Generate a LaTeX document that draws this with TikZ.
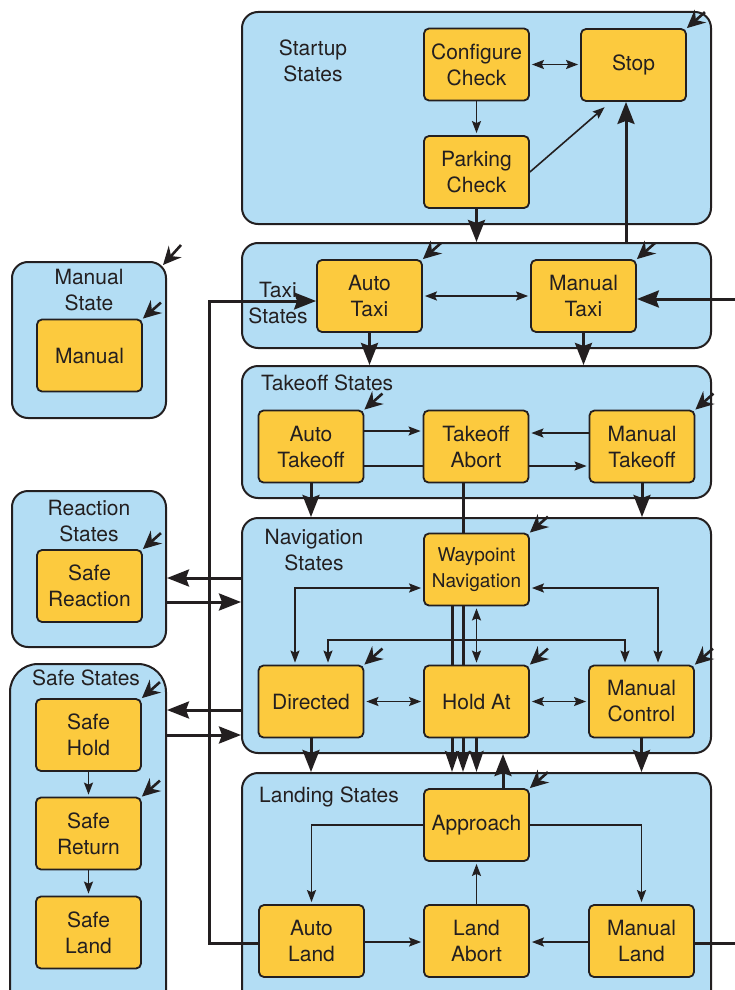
\documentclass[tikz,border=0pt]{standalone}
\usepackage{fontspec}
\setmainfont{TeX Gyre Heros}
\usetikzlibrary{arrows.meta,calc}
\definecolor{contfill}{HTML}{B3DDF4}
\definecolor{statefill}{HTML}{FCCA3E}
\definecolor{ink}{HTML}{231F20}
\pgfdeclarelayer{back}
\pgfdeclarelayer{mid}
\pgfsetlayers{back,mid,main}
\begin{document}
\begin{tikzpicture}[x=1pt,y=-1pt,
  font=\fontsize{21}{26}\selectfont, text=ink,
  cont/.style={draw=ink, line width=2pt, fill=contfill, rounded corners=16pt, inner sep=0pt},
  st/.style={draw=ink, line width=1.8pt, fill=statefill, rounded corners=5pt, minimum width=105pt, minimum height=72pt, align=center, inner sep=2pt},
  lbl/.style={inner sep=0pt, align=center},
  tline/.style={draw=ink, line width=1.6pt},
  tarr/.style={tline, -{Stealth[length=12pt,width=9pt,inset=2pt]}, shorten >=2pt},
  tbi/.style={tline, {Stealth[length=12pt,width=9pt,inset=2pt]}-{Stealth[length=12pt,width=9pt,inset=2pt]}, shorten >=2pt, shorten <=2pt},
  kline/.style={draw=ink, line width=3pt},
  karr/.style={kline, -{Stealth[length=22pt,width=17pt,inset=3pt]}},
  karrs/.style={kline, -{Stealth[length=21pt,width=14pt,inset=3pt]}},
  iarr/.style={draw=ink, line width=2.6pt, -{Stealth[length=18pt,width=17pt,inset=6pt]}}
]
\useasboundingbox (0,0) rectangle (735,990);

% state nodes
\node[st] (cfg) at (476.5,64.5) {Configure\\Check};
\node[st] (stop) at (633.5,65) {Stop};
\node[st] (park) at (476.5,172) {Parking\\Check};
\node[st] (ataxi) at (369.5,296) {Auto\\Taxi};
\node[st] (mtaxi) at (583.5,296) {Manual\\Taxi};
\node[st] (atko) at (311,446.5) {Auto\\Takeoff};
\node[st] (tkab) at (476,446.5) {Takeoff\\Abort};
\node[st] (mtko) at (642,446.5) {Manual\\Takeoff};
\node[st, font=\fontsize{19}{26}\selectfont] (wp) at (476.5,569.5) {Waypoint\\Navigation};
\node[st] (dir) at (311,701.5) {Directed};
\node[st] (hold) at (476.5,701.5) {Hold At};
\node[st] (mctl) at (641.5,701.5) {Manual\\Control};
\node[st] (appr) at (476.5,825) {Approach};
\node[st] (aland) at (311.5,941) {Auto\\Land};
\node[st] (labort) at (476.5,941) {Land\\Abort};
\node[st] (mland) at (641.5,941) {Manual\\Land};
\node[st] (man) at (89.5,355.5) {Manual};
\node[st] (srea) at (89.5,586) {Safe\\Reaction};
\node[st] (shold) at (88.5,735) {Safe\\Hold};
\node[st] (sret) at (88.5,833.5) {Safe\\Return};
\node[st] (sland) at (88.5,932.5) {Safe\\Land};

% container labels
\node[lbl] (lstartup) at (313,61) {Startup\\States};
\node[lbl] (ltaxi) at (278,303) {Taxi\\States};
\node[lbl, anchor=west] (ltko) at (261,383) {Takeoff States};
\node[lbl] (lnav) at (314,550) {Navigation\\States};
\node[lbl, anchor=west] (lland) at (259,797) {Landing States};
\node[lbl] (lman) at (89,290) {Manual\\State};
\node[lbl] (lrea) at (89,521) {Reaction\\States};
\node[lbl] (lsafe) at (86,678) {Safe States};

% containers
\begin{pgfonlayer}{back}
\node[cont, minimum width=469pt, minimum height=212pt] (startup) at (476.5,118) {};
\node[cont, minimum width=469pt, minimum height=105pt] (taxi) at (476.5,295.5) {};
\node[cont, minimum width=469pt, minimum height=132pt] (takeoff) at (476.5,432) {};
\node[cont, minimum width=469pt, minimum height=235pt] (nav) at (476.5,635.5) {};
\node[cont, minimum width=469pt, minimum height=237pt] (landing) at (476.5,891.5) {};
\node[cont, minimum width=154pt, minimum height=156pt] (manst) at (89,340) {};
\node[cont, minimum width=154pt, minimum height=156pt] (react) at (89,569) {};
\node[cont, rounded corners=28pt, minimum width=156pt, minimum height=356pt] (safe) at (88,842) {};
\end{pgfonlayer}

% helper coordinates
\coordinate (stopin) at ($(stop.south)+(-7.5,0)$);
\coordinate (xL) at (209,0);
\coordinate (xR) at (760,0);
\coordinate (yAT) at (0,301);
\coordinate (yMT) at (0,299);
\coordinate (yAL) at (0,943);
\coordinate (yT1) at (0,431);
\coordinate (yT2) at (0,433);
\coordinate (yT3) at (0,466);
\coordinate (yW) at (0,588);
\coordinate (xD1) at (295,0);
\coordinate (xD2) at (328,0);
\coordinate (xM1) at (625,0);
\coordinate (xM2) at (658,0);
\coordinate (yDM) at (0,640);
\coordinate (xUp) at (503,0);
\coordinate (xTA) at (463,0);
\coordinate (xWP) at (452,0);
\coordinate (yR1) at (0,578);
\coordinate (yR2) at (0,602);
\coordinate (yS1) at (0,710);
\coordinate (yS2) at (0,735);
\coordinate (yL) at (0,942);

% lines passing behind states
\begin{pgfonlayer}{mid}
\draw[karrs] (xTA |- tkab.south) -- (xTA |- landing.north);
\draw[karrs] (xWP |- wp.south) -- (xWP |- landing.north);
\end{pgfonlayer}

% startup
\draw[tbi] (cfg.east) -- (cfg.east -| stop.west);
\draw[tarr] (cfg) -- (park);
\draw[tarr] (park.east) -- ($(stop.south west)+(26,4)$);
\draw[karr] (park.south) -- (park.south |- taxi.north);
\draw[karr] (stopin |- taxi.north) -- (stopin);

% taxi
\draw[tbi] (ataxi.east) -- (mtaxi.west);
\draw[karr] (ataxi.south) -- (ataxi.south |- takeoff.north);
\draw[karr] (mtaxi.south) -- (mtaxi.south |- takeoff.north);
\draw[karr] (aland.west |- yAL) -- (xL |- yAL) -- (xL |- yAT) -- (ataxi.west |- yAT);
\draw[karr] (mland.east |- yAL) -- (xR |- yAL) -- (xR |- yMT) -- (mtaxi.east |- yMT);

% takeoff
\draw[tarr] (atko.east |- yT1) -- (tkab.west |- yT1);
\draw[tarr] (mtko.west |- yT2) -- (tkab.east |- yT2);
\draw[tarr] (tkab.east |- yT3) -- (mtko.west |- yT3);
\draw[tline] (atko.east |- yT3) -- (tkab.west |- yT3);
\draw[karr] (atko.south) -- (atko.south |- nav.north);
\draw[karr] (mtko.south) -- (mtko.south |- nav.north);

% navigation
\draw[tbi] (wp.west |- yW) -| (xD1 |- dir.north);
\draw[tbi] (wp.east |- yW) -| (xM2 |- mctl.north);
\draw[tbi] (xD2 |- dir.north) -- (xD2 |- yDM) -- (xM1 |- yDM) -- (xM1 |- mctl.north);
\draw[tbi] (wp.south) -- (hold.north);
\draw[tbi] (dir.east) -- (hold.west);
\draw[tbi] (hold.east) -- (mctl.west);
\draw[karr] (dir.south) -- (dir.south |- landing.north);
\draw[karr] (mctl.south) -- (mctl.south |- landing.north);
\draw[karrs] (hold.south) -- (hold.south |- landing.north);
\draw[karr] (xUp |- appr.north) -- (xUp |- nav.south);
\draw[karr] (nav.west |- yR1) -- (react.east |- yR1);
\draw[karr] (react.east |- yR2) -- (nav.west |- yR2);
\draw[karr] (nav.west |- yS1) -- (safe.east |- yS1);
\draw[karr] (safe.east |- yS2) -- (nav.west |- yS2);

% landing
\draw[tarr] (appr.west) -| (aland.north);
\draw[tarr] (appr.east) -| (mland.north);
\draw[tarr] (labort.north) -- (appr.south);
\draw[tarr] (aland.east |- yL) -- (labort.west |- yL);
\draw[tarr] (mland.west |- yL) -- (labort.east |- yL);

% safe
\draw[tarr] (shold) -- (sret);
\draw[tarr] (sret) -- (sland);

% initial-state arrows
\foreach \n in {stop,ataxi,mtaxi,atko,mtko,wp,dir,hold,mctl,appr,man,srea,shold,sret}
  \draw[iarr] ($(\n.north east)+(18,-16)$) -- (\n.north east);
\draw[iarr] ($(manst.north east)+(14,-16)$) -- ($(manst.north east)+(-4,4)$);
\end{tikzpicture}
\end{document}
